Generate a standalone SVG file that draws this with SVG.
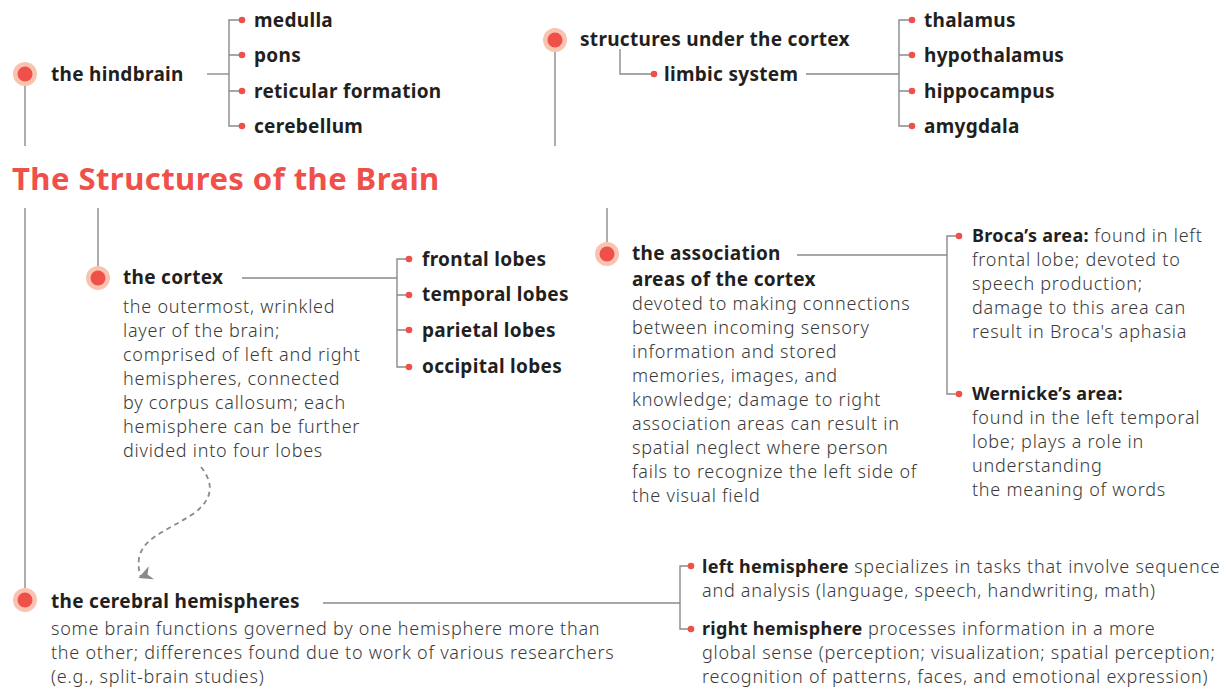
<svg xmlns="http://www.w3.org/2000/svg" width="1228" height="688" viewBox="0 0 1228 688">
<defs>
<style>
.h{font-family:"Noto Sans",sans-serif;font-weight:700;font-size:19px;letter-spacing:0.3px;fill:#231f20}
.d{font-family:"Noto Sans",sans-serif;font-weight:300;font-size:18px;letter-spacing:0.75px;fill:#3a3a3a}
.b{font-weight:700;fill:#231f20;letter-spacing:0.3px}
.t{font-family:"Noto Sans",sans-serif;font-weight:700;font-size:31px;letter-spacing:0.45px;fill:#f0504a}
.ln{stroke:#8a8a8a;stroke-width:1.4;fill:none}
.dot{fill:#f0504a}
.halo{fill:#f9c3b0}
</style>
<marker id="ah" viewBox="0 0 10 10" refX="5" refY="8" markerWidth="14" markerHeight="14" markerUnits="userSpaceOnUse" orient="auto">
<path d="M0,0 L5,3 L10,0 L5,10 Z" fill="#8a8a8a"/>
</marker>
</defs>
<rect width="1228" height="688" fill="#ffffff"/>

<g id="connectors">
<line class="ln" x1="25" y1="86" x2="25" y2="146"/>
<line class="ln" x1="555" y1="52" x2="555" y2="146"/>
<line class="ln" x1="25" y1="208" x2="25" y2="588"/>
<line class="ln" x1="98" y1="208" x2="98" y2="266"/>
<line class="ln" x1="607" y1="208" x2="607" y2="242"/>
<line class="ln" x1="207" y1="74" x2="229" y2="74"/>
<path class="ln" d="M241,20 H229 V126 H241 M229,55 H241 M229,91 H241"/>
<path class="ln" d="M620,49 V74 H653"/>
<line class="ln" x1="806" y1="74" x2="899" y2="74"/>
<path class="ln" d="M911,20 H899 V126 H911 M899,55 H911 M899,91 H911"/>
<line class="ln" x1="242" y1="278" x2="397" y2="278"/>
<path class="ln" d="M408,259 H397 V367 H408 M397,295 H408 M397,330 H408"/>
<line class="ln" x1="797" y1="255" x2="947" y2="255"/>
<path class="ln" d="M958,236 H947 V394 H958"/>
<line class="ln" x1="323" y1="603" x2="680" y2="603"/>
<path class="ln" d="M690,566 H680 V629 H690"/>
<path d="M201,467 C213,482 215,498 193,514 C165,532 143,538 139,558 C138,566 139,572 141,577" fill="none" stroke="#8a8a8a" stroke-width="1.8" stroke-dasharray="5,4" marker-end="url(#ah)"/>
</g>

<g id="title"><text class="t" x="12" y="190">The Structures of the Brain</text></g>

<g id="hindbrain">
<circle class="halo" cx="25" cy="74" r="12"/><circle class="dot" cx="25" cy="74" r="7.5"/>
<text class="h" x="51" y="81">the hindbrain</text>
</g>
<g id="hindbrain-items">
<circle class="dot" cx="242" cy="20" r="3.3"/><circle class="dot" cx="242" cy="55" r="3.3"/><circle class="dot" cx="242" cy="91" r="3.3"/><circle class="dot" cx="242" cy="126" r="3.3"/>
<text class="h" x="254" y="27">medulla</text>
<text class="h" x="254" y="62">pons</text>
<text class="h" x="254" y="98">reticular formation</text>
<text class="h" x="254" y="133">cerebellum</text>
</g>

<g id="subcortex">
<circle class="halo" cx="555" cy="40" r="12"/><circle class="dot" cx="555" cy="40" r="7.5"/>
<text class="h" x="580" y="46">structures under the cortex</text>
</g>
<g id="limbic">
<circle class="dot" cx="654" cy="74" r="3.3"/>
<text class="h" x="664" y="81">limbic system</text>
</g>
<g id="limbic-items">
<circle class="dot" cx="912" cy="20" r="3.3"/><circle class="dot" cx="912" cy="55" r="3.3"/><circle class="dot" cx="912" cy="91" r="3.3"/><circle class="dot" cx="912" cy="126" r="3.3"/>
<text class="h" x="924" y="27">thalamus</text>
<text class="h" x="924" y="62">hypothalamus</text>
<text class="h" x="924" y="98">hippocampus</text>
<text class="h" x="924" y="133">amygdala</text>
</g>

<g id="cortex">
<circle class="halo" cx="98" cy="278" r="12"/><circle class="dot" cx="98" cy="278" r="7.5"/>
<text class="h" x="123" y="284">the cortex</text>
<text class="d" x="123" y="313">the outermost, wrinkled</text>
<text class="d" x="123" y="337">layer of the brain;</text>
<text class="d" x="123" y="361">comprised of left and right</text>
<text class="d" x="123" y="385">hemispheres, connected</text>
<text class="d" x="123" y="409">by corpus callosum; each</text>
<text class="d" x="123" y="433">hemisphere can be further</text>
<text class="d" x="123" y="457">divided into four lobes</text>
</g>
<g id="lobes">
<circle class="dot" cx="409" cy="259" r="3.3"/><circle class="dot" cx="409" cy="295" r="3.3"/><circle class="dot" cx="409" cy="330" r="3.3"/><circle class="dot" cx="409" cy="367" r="3.3"/>
<text class="h" x="422" y="266">frontal lobes</text>
<text class="h" x="422" y="301">temporal lobes</text>
<text class="h" x="422" y="337">parietal lobes</text>
<text class="h" x="422" y="373">occipital lobes</text>
</g>

<g id="association">
<circle class="halo" cx="607" cy="254" r="12"/><circle class="dot" cx="607" cy="254" r="7.5"/>
<text class="h" x="632" y="260">the association</text>
<text class="h" x="632" y="286">areas of the cortex</text>
<text class="d" x="632" y="310">devoted to making connections</text>
<text class="d" x="632" y="334">between incoming sensory</text>
<text class="d" x="632" y="358">information and stored</text>
<text class="d" x="632" y="382">memories, images, and</text>
<text class="d" x="632" y="406">knowledge; damage to right</text>
<text class="d" x="632" y="430">association areas can result in</text>
<text class="d" x="632" y="454">spatial neglect where person</text>
<text class="d" x="632" y="478">fails to recognize the left side of</text>
<text class="d" x="632" y="502">the visual field</text>
</g>
<g id="broca">
<circle class="dot" cx="959" cy="236" r="3.3"/>
<text class="d" x="972" y="242"><tspan class="b">Broca’s area:</tspan> found in left</text>
<text class="d" x="972" y="266">frontal lobe; devoted to</text>
<text class="d" x="972" y="290">speech production;</text>
<text class="d" x="972" y="314">damage to this area can</text>
<text class="d" x="972" y="338">result in Broca's aphasia</text>
</g>
<g id="wernicke">
<circle class="dot" cx="959" cy="394" r="3.3"/>
<text class="d" x="972" y="400"><tspan class="b">Wernicke’s area:</tspan></text>
<text class="d" x="972" y="424">found in the left temporal</text>
<text class="d" x="972" y="448">lobe; plays a role in</text>
<text class="d" x="972" y="472">understanding</text>
<text class="d" x="972" y="496">the meaning of words</text>
</g>

<g id="hemispheres">
<circle class="halo" cx="25" cy="600" r="12"/><circle class="dot" cx="25" cy="600" r="7.5"/>
<text class="h" x="51" y="608">the cerebral hemispheres</text>
<text class="d" x="51" y="635">some brain functions governed by one hemisphere more than</text>
<text class="d" x="51" y="659">the other; differences found due to work of various researchers</text>
<text class="d" x="51" y="683">(e.g., split-brain studies)</text>
</g>
<g id="left-hemisphere">
<circle class="dot" cx="691" cy="566" r="3.3"/>
<text class="d" x="702" y="573"><tspan class="b">left hemisphere</tspan> specializes in tasks that involve sequence</text>
<text class="d" x="702" y="597">and analysis (language, speech, handwriting, math)</text>
</g>
<g id="right-hemisphere">
<circle class="dot" cx="691" cy="629" r="3.3"/>
<text class="d" x="702" y="635"><tspan class="b">right hemisphere</tspan> processes information in a more</text>
<text class="d" x="702" y="659">global sense (perception; visualization; spatial perception;</text>
<text class="d" x="702" y="683">recognition of patterns, faces, and emotional expression)</text>
</g>
</svg>
